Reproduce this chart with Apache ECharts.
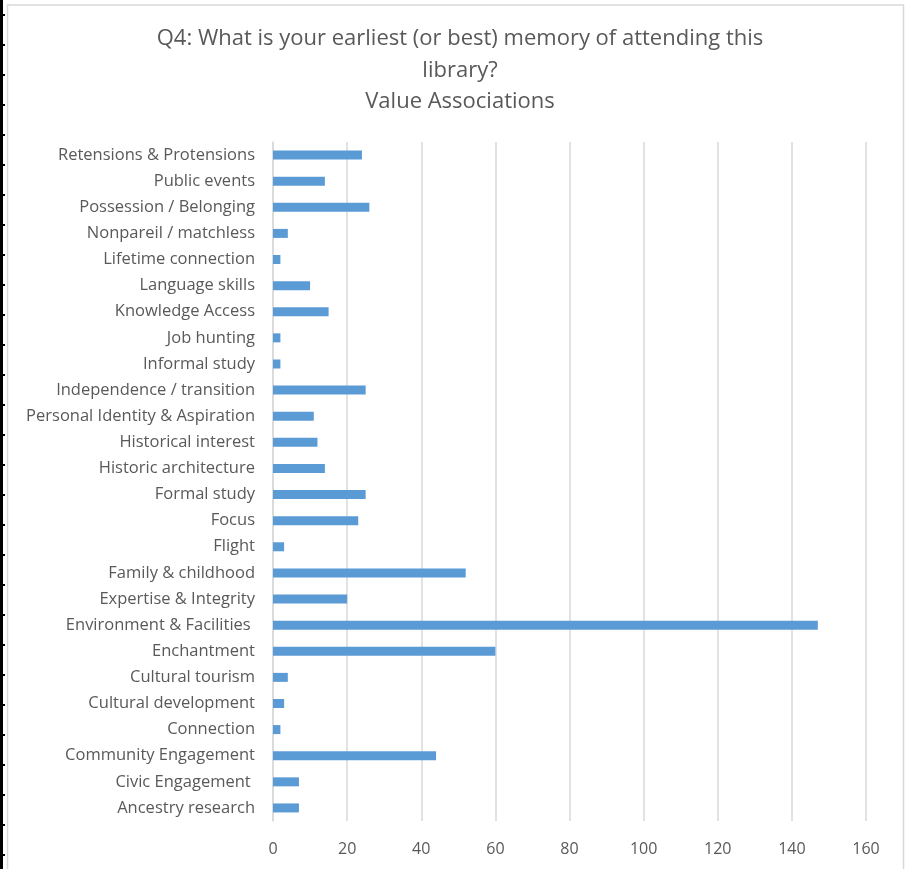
<!DOCTYPE html>
<html>
<head>
<meta charset="utf-8">
<script src="https://cdn.jsdelivr.net/npm/echarts@6/dist/echarts.min.js"></script>
<style>
html,body{margin:0;padding:0;background:#fff;}
#main{width:906px;height:869px;}
</style>
</head>
<body>
<div id="main"></div>
<script>
const titleLines = ['Q4: What is your earliest (or best) memory of attending this', 'library?', 'Value Associations'];
const categories = [
  'Ancestry research', 'Civic Engagement ', 'Community Engagement', 'Connection',
  'Cultural development', 'Cultural tourism', 'Enchantment', 'Environment & Facilities ',
  'Expertise & Integrity', 'Family & childhood', 'Flight', 'Focus', 'Formal study',
  'Historic architecture', 'Historical interest', 'Personal Identity & Aspiration',
  'Independence / transition', 'Informal study', 'Job hunting', 'Knowledge Access',
  'Language skills', 'Lifetime connection', 'Nonpareil / matchless',
  'Possession / Belonging', 'Public events', 'Retensions & Protensions'
];
const values = [7, 7, 44, 2, 3, 4, 60, 147, 20, 52, 3, 23, 25, 14, 12, 11, 25, 2, 2, 15, 10, 2, 4, 26, 14, 24];
const xTicks = {min: 0, max: 160, interval: 20};

const chart = echarts.init(document.getElementById('main'));
const FONT = '"Open Sans", "Liberation Sans", sans-serif';
const leftTicks = [];
for (let y = 15; y < 869; y += 30) {
  leftTicks.push({type: 'line', silent: true, shape: {x1: 0, y1: y, x2: 5, y2: y}, style: {stroke: '#000', lineWidth: 2}});
}
chart.setOption({
  backgroundColor: '#ffffff',
  animation: false,
  graphic: [
    {type: 'rect', silent: true, shape: {x: 7.5, y: 5, width: 896, height: 875}, style: {fill: 'none', stroke: '#d9d9d9', lineWidth: 1.5}},
    {type: 'line', silent: true, shape: {x1: 1.5, y1: 0, x2: 1.5, y2: 869}, style: {stroke: '#000', lineWidth: 3}}
  ].concat(leftTicks),
  title: {
    text: titleLines.join('\n'),
    left: 455,
    textAlign: 'center',
    top: 18,
    textStyle: {fontFamily: FONT, fontSize: 22, fontWeight: 'normal', color: '#595959', lineHeight: 31.5}
  },
  grid: {left: 273, right: 40, top: 142, bottom: 48, containLabel: false},
  xAxis: {
    type: 'value',
    min: xTicks.min, max: xTicks.max, interval: xTicks.interval,
    axisLine: {show: false},
    axisTick: {show: false},
    axisLabel: {fontFamily: FONT, fontSize: 16, color: '#595959', margin: 20},
    splitLine: {show: true, lineStyle: {color: '#d9d9d9', width: 1.5}}
  },
  yAxis: {
    type: 'category',
    data: categories,
    axisLine: {show: true, lineStyle: {color: '#d9d9d9', width: 1.5}},
    axisTick: {show: false},
    axisLabel: {fontFamily: FONT, fontSize: 16.5, color: '#595959', margin: 18, interval: 0}
  },
  series: [{
    type: 'bar',
    data: values,
    barWidth: 9,
    itemStyle: {color: '#5b9bd5'}
  }]
});
</script>
</body>
</html>
